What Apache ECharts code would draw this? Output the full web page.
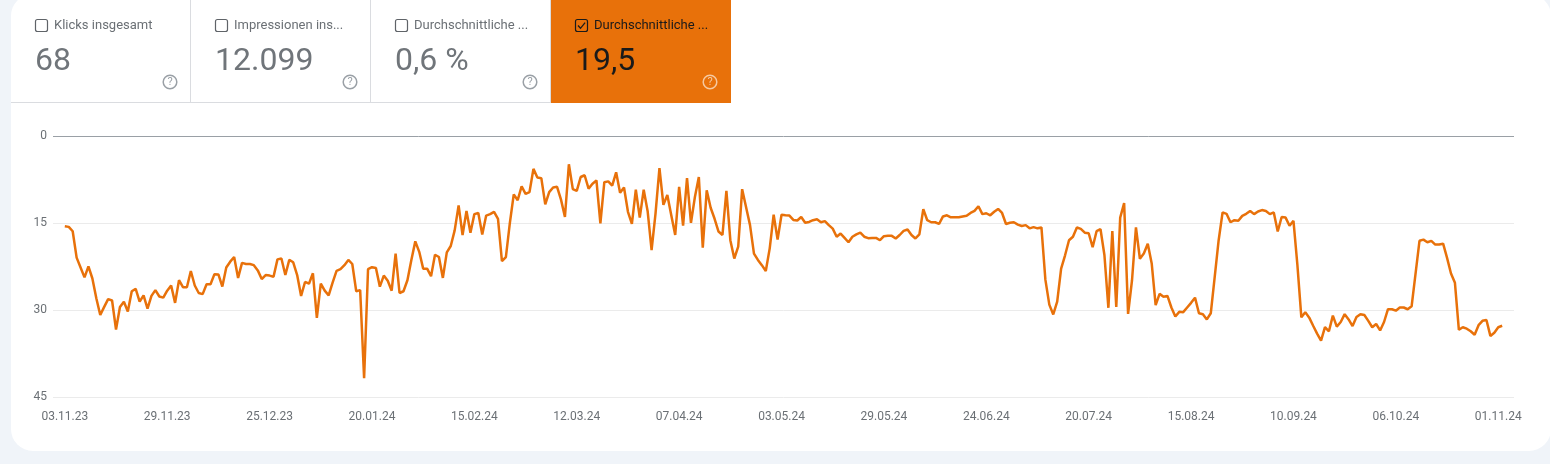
<!DOCTYPE html>
<html><head><meta charset="utf-8">
<style>html,body{margin:0;padding:0;background:#f0f4f9;overflow:hidden}#c{width:1550px;height:464px}</style>
<script src="https://cdn.jsdelivr.net/npm/echarts@6/dist/echarts.min.js"></script>
</head><body><div id="c"></div>
<script>
const tickLabels = ['03.11.23','29.11.23','25.12.23','20.01.24','15.02.24','12.03.24','07.04.24','03.05.24','29.05.24','24.06.24','20.07.24','15.08.24','10.09.24','06.10.24','01.11.24'];
const positions = [
15.5,15.6,16.35,20.9,22.6,24.3,22.4,24.5,27.9,30.8,29.4,28.05,28.3,33.3,29.4,28.5,30.2,26.7,26.3,28.5,
27.4,29.7,27.5,26.5,27.6,27.8,26.6,25.7,28.7,24.8,26,26,23.2,25.7,27,27.2,25.5,25.5,23.75,23.8,
25.9,22.6,21.6,20.8,24.4,21.8,22,22,22.2,23.1,24.6,23.9,24,24.2,21.2,21.05,23.9,21.3,21.7,23.9,
27.5,25.1,25.4,23.6,31.3,25.4,26.6,27.4,25.2,23.2,22.9,22.2,21.3,22,26.7,26.5,41.7,22.9,22.55,22.7,
25.9,24,24.9,26.6,20.2,27,26.7,24.8,21.3,18.1,19.9,22.8,22.8,24.1,20.4,20.8,24.4,20,18.9,16.2,
11.9,17,12.85,16.6,13.4,13.2,16.9,13.65,13.4,13,14.2,21.5,20.8,15,10,11,8.6,9.9,9.6,5.6,
7.1,7.2,11.7,9.6,8.8,8.7,10.9,13.9,4.8,9.1,9.4,7,6.7,9,8.15,7.6,15,7.9,7.75,8.5,
6.2,9.7,8.8,13,15.1,9.2,14,9.2,12.9,19.6,13.3,5.45,11.8,10.1,13.6,17,8.7,15.4,7.2,14.9,
10.45,7,19.2,9.3,12.3,14.2,16.4,17,9.4,17.9,21.05,19,9.1,12.2,15.3,20.2,21.3,22.2,23.2,19.3,
13.5,17.8,13.5,13.6,13.65,14.4,14.5,13.9,14.9,14.75,14.45,14.3,14.8,14.6,15.3,15.9,17.3,16.75,17.5,18.25,
17.3,16.9,16.6,17.3,17.55,17.5,17.5,17.9,17.2,17.15,17.15,17.6,17,16.3,16.05,17,17.6,16.9,12.55,14.45,
14.8,14.8,15.1,13.8,13.6,13.95,13.95,13.95,13.8,13.7,13.2,12.85,12.05,13.4,13.25,13.6,13,12.5,13.2,15.1,
14.9,14.8,15.2,15.45,15.3,15.85,15.65,15.85,15.7,24.7,29,30.7,28.5,22.8,20.5,17.9,17.3,15.7,15.95,16.6,
16.7,19.1,16.35,16,20.5,29.55,16.3,29.4,14,11.5,30.6,24.8,15.7,21.1,20.2,18.5,21.9,29.1,27.15,27.65,
27.5,29.5,31.05,30.25,30.3,29.5,28.7,27.8,30.5,30.65,31.55,30.5,24.2,17.9,13.1,13.35,14.8,14.45,14.55,13.7,
13.35,12.85,13.4,12.95,12.7,12.85,13.4,13.1,16.4,13.9,14,15.4,14.55,22.2,31.2,30.3,31.25,32.65,34,35.2,
32.9,33.6,30.9,32.8,32,30.65,31.55,32.7,31.15,30.65,30.8,31.8,32.9,32.35,33.45,32,29.8,29.8,30.05,29.5,
29.5,29.8,29.3,23.65,18,17.8,18.25,18,18.65,18.65,18.5,20.95,23.65,25.25,33.35,32.9,33.15,33.6,34.2,32.55,
31.8,31.65,34.4,33.85,32.9,32.65];
const tileTitles = ['Klicks insgesamt','Impressionen ins...','Durchschnittliche ...','Durchschnittliche ...'];
const tileValues = ['68','12.099','0,6 %','19,5'];

const ORANGE = '#e8710a', GREY = '#6b7075', VAL = '#70757a';
const FONT = 'Roboto';
const g = [];
g.push({type:'rect',z:0,silent:true,shape:{x:11,y:-6,width:1540,height:457,r:22},style:{fill:'#ffffff'}});
g.push({type:'rect',z:1,silent:true,shape:{x:11,y:102,width:540,height:1},style:{fill:'#dadce0'}});
tileTitles.forEach((t,i)=>{
  const x = 11 + i*180, on = i===3;
  if(on) g.push({type:'rect',z:1,silent:true,shape:{x:551,y:0,width:180,height:103},style:{fill:ORANGE}});
  else if(i<3) g.push({type:'rect',z:1,silent:true,shape:{x:x+179,y:0,width:1,height:103},style:{fill:'#dadce0'}});
  const bx = x+24.5, by = 19.5, ink = on?'#1a1a1a':'#5f6368';
  g.push({type:'rect',z:2,silent:true,shape:{x:bx,y:by,width:12,height:12,r:2},style:{fill:'none',stroke:ink,lineWidth:1.2}});
  if(on) g.push({type:'polyline',z:2,silent:true,shape:{points:[[bx+2.5,by+6],[bx+5,by+8.8],[bx+9.6,by+3.2]]},style:{fill:'none',stroke:ink,lineWidth:1.3}});
  g.push({type:'text',z:2,silent:true,style:{x:x+43,y:26,text:t,font:'13px '+FONT,fill:on?'#1a1a1a':GREY,verticalAlign:'middle'}});
  g.push({type:'text',z:2,silent:true,style:{x:x+24,y:62,text:tileValues[i],font:'32px '+FONT,fill:on?'#1a1a1a':VAL,verticalAlign:'middle'}});
  const ic = on?'#f6c9a0':'#9aa0a6';
  g.push({type:'circle',z:2,silent:true,shape:{cx:x+159,cy:82,r:6.8},style:{fill:'none',stroke:ic,lineWidth:1.5}});
  g.push({type:'text',z:2,silent:true,style:{x:x+159,y:82.5,text:'?',font:'11px '+FONT,fill:ic,align:'center',verticalAlign:'middle'}});
});

const chart = echarts.init(document.getElementById('c'));
chart.setOption({
  animation:false,
  backgroundColor:'transparent',
  graphic:g,
  grid:{left:53,right:36,top:136.4,bottom:66.6,containLabel:false},
  xAxis:{type:'value',min:-3,max:368,
    axisLine:{show:false},axisTick:{show:false},splitLine:{show:false},
    axisLabel:{customValues:tickLabels.map((_,i)=>i*26),formatter:v=>tickLabels[Math.round(v/26)],
      color:GREY,fontFamily:FONT,fontSize:12,margin:14,showMinLabel:true,showMaxLabel:true,hideOverlap:false}},
  yAxis:{type:'value',inverse:true,min:0,max:45,interval:15,
    axisLine:{show:false},axisTick:{show:false},
    splitLine:{show:true,lineStyle:{color:['#9aa0a6','#ebebeb','#ebebeb','#ebebeb'],width:1}},
    axisLabel:{color:GREY,fontFamily:FONT,fontSize:12,margin:6}},
  series:[{type:'line',data:positions.map((v,i)=>[i,v]),showSymbol:false,symbol:'none',
    lineStyle:{color:ORANGE,width:2.5},itemStyle:{color:ORANGE},z:5}]
});
</script></body></html>
